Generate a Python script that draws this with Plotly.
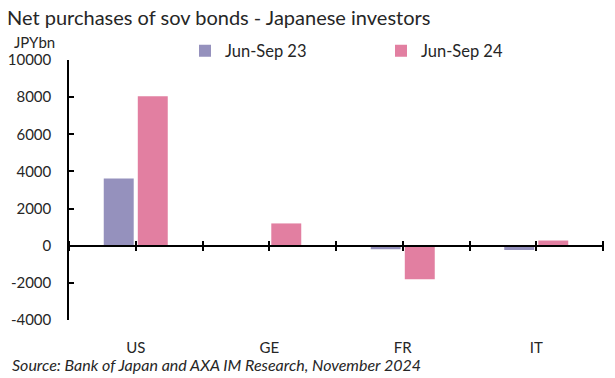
import plotly.graph_objects as go

categories = ["US", "GE", "FR", "IT"]
jun_sep_23 = [3620, -30, -190, -230]
jun_sep_24 = [8050, 1200, -1800, 280]
series_names = ["Jun-Sep 23", "Jun-Sep 24"]
y_ticks = [-4000, -2000, 0, 2000, 4000, 6000, 8000, 10000]
y_tick_text = [str(v) for v in y_ticks]

FONT = "Lato"
TXT = "#262626"
x_pos = list(range(len(categories)))
minor_ticks = [i * 0.5 - 0.5 for i in range(2 * len(categories) + 1)]

fig = go.Figure()
fig.add_trace(go.Bar(x=x_pos, y=jun_sep_23, name=series_names[0], legend="legend",
                     marker=dict(color="#9591BD", line=dict(width=0))))
fig.add_trace(go.Bar(x=x_pos, y=jun_sep_24, name=series_names[1], legend="legend2",
                     marker=dict(color="#E27FA1", line=dict(width=0))))
# helper invisible traces so overlay axes are drawn
for xa in ["x2", "x3"]:
    fig.add_trace(go.Scatter(x=[0], y=[0], xaxis=xa, yaxis="y", mode="markers",
                             marker=dict(opacity=0), showlegend=False, hoverinfo="skip"))

zero_pos = (0 - y_ticks[0]) / (y_ticks[-1] - y_ticks[0])
tick_axis = dict(range=[-0.5, 3.5], overlaying="x", anchor="free", position=zero_pos,
                 tickvals=minor_ticks, showticklabels=False, ticks="outside", ticklen=5,
                 tickwidth=1.5, tickcolor="black", showgrid=False, zeroline=False)

fig.update_layout(
    width=615, height=378,
    margin=dict(l=69, r=12, t=60, b=58, autoexpand=False),
    paper_bgcolor="white", plot_bgcolor="white",
    font=dict(family=FONT, color=TXT, size=15),
    barmode="group", bargap=0.49, bargroupgap=0.12,
    xaxis=dict(range=[-0.5, 3.5], tickvals=x_pos, ticktext=categories,
               showline=False, showgrid=False, zeroline=False, ticks="",
               ticklabelstandoff=17, tickfont=dict(size=15, color=TXT)),
    xaxis2=dict(tick_axis, showline=True, linecolor="black", linewidth=1.5, side="bottom"),
    xaxis3=dict(tick_axis, showline=False, side="top"),
    yaxis=dict(range=[y_ticks[0], y_ticks[-1]], tickvals=y_ticks, ticktext=y_tick_text,
               ticks="inside", ticklen=5, tickwidth=1.5, tickcolor="black",
               showline=True, linecolor="black", linewidth=1.5,
               showgrid=False, zeroline=False, ticklabelstandoff=13,
               tickfont=dict(size=15, color=TXT)),
    legend=dict(orientation="h", x=(185 - 69) / 534, xanchor="left", y=1.035,
                yanchor="middle", font=dict(size=16.5, color=TXT),
                bgcolor="rgba(0,0,0,0)"),
    legend2=dict(orientation="h", x=(381 - 69) / 534, xanchor="left", y=1.035,
                 yanchor="middle", font=dict(size=16.5, color=TXT),
                 bgcolor="rgba(0,0,0,0)"),
    showlegend=True,
)

fig.add_annotation(text="Net purchases of sov bonds - Japanese investors",
                   xref="paper", yref="paper", x=-69/534, y=(320-17)/260,
                   xanchor="left", yanchor="middle", showarrow=False,
                   font=dict(size=20, color=TXT, family=FONT), xshift=5)
fig.add_annotation(text="JPYbn", xref="paper", yref="paper", x=-69/534, y=(320-42)/260,
                   xanchor="left", yanchor="middle", showarrow=False,
                   font=dict(size=15, color=TXT, family=FONT), xshift=12)
fig.add_annotation(text="<i>Source: Bank of Japan and AXA IM Research, November 2024</i>",
                   xref="paper", yref="paper", x=-69/534, y=(320-364)/260,
                   xanchor="left", yanchor="middle", showarrow=False,
                   font=dict(size=16, color=TXT, family=FONT), xshift=10)

fig.write_html("out.html", config={"displayModeBar": False},
               post_script="document.body.style.margin='0';")
